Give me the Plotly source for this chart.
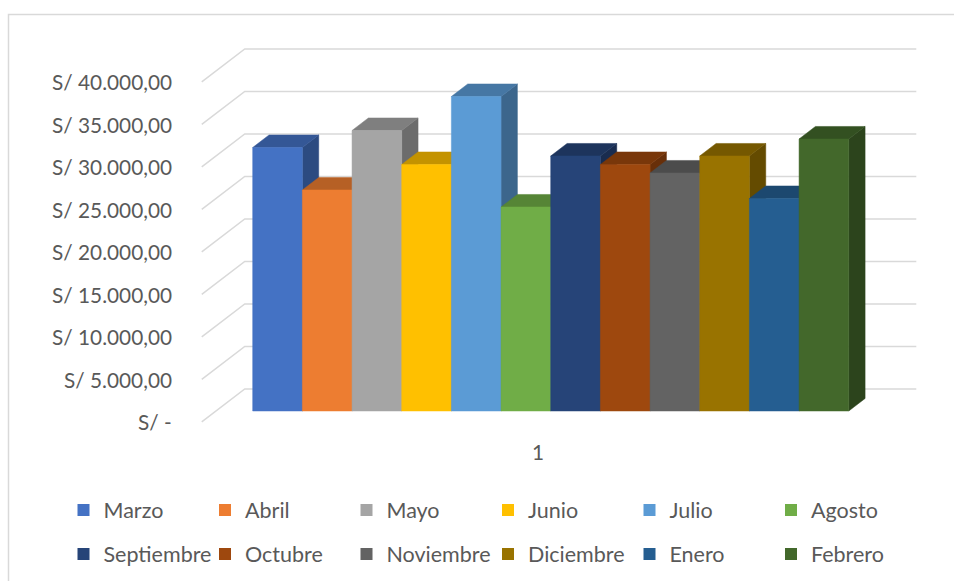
import plotly.graph_objects as go

# ---------------- data ----------------
months = ["Marzo", "Abril", "Mayo", "Junio", "Julio", "Agosto",
          "Septiembre", "Octubre", "Noviembre", "Diciembre", "Enero", "Febrero"]
values = [31000, 26000, 33000, 29000, 37000, 24000,
          30000, 29000, 28000, 30000, 25000, 32000]
colors = ["#4472C4", "#ED7D31", "#A5A5A5", "#FFC000", "#5B9BD5", "#70AD47",
          "#264478", "#9E480E", "#636363", "#997300", "#255E91", "#43682B"]
tick_vals = [0, 5000, 10000, 15000, 20000, 25000, 30000, 35000, 40000]
tick_text = ["S/ -", "S/ 5.000,00", "S/ 10.000,00", "S/ 15.000,00", "S/ 20.000,00",
             "S/ 25.000,00", "S/ 30.000,00", "S/ 35.000,00", "S/ 40.000,00"]
category_label = "1"

# ---------------- 3D oblique projection settings ----------------
DX = 0.866      # x shift (bar units) for full depth
DY = 3882.0     # y shift (value units) for full depth
ZB = 0.33       # depth of bar front face
ZB2 = 0.71      # depth of bar back face
XL, XR = -0.74, 12.78   # floor extent (bar units)
FONT = "Lato"
FSIZE = 20.8
TXT = "#595959"

def proj(x, z, v):
    return x + (z - ZB) * DX, v + (z - ZB) * DY

def shade(hexc, f):
    h = hexc.lstrip("#")
    r, g, b = (int(h[i:i + 2], 16) for i in (0, 2, 4))
    return "#%02x%02x%02x" % (int(r * f), int(g * f), int(b * f))

def poly(pts, color):
    return go.Scatter(x=[p[0] for p in pts] + [pts[0][0]],
                      y=[p[1] for p in pts] + [pts[0][1]],
                      fill="toself", fillcolor=color, mode="lines",
                      line=dict(width=0.5, color=color),
                      hoverinfo="skip", showlegend=False)

fig = go.Figure()

# gridlines (left wall + back wall)
for v in tick_vals:
    p0 = proj(XL, 0, v)
    p1 = proj(XL, 1, v)
    p2 = proj(XR, 1, v)
    fig.add_trace(go.Scatter(x=[p0[0], p1[0], p2[0]], y=[p0[1], p1[1], p2[1]],
                             mode="lines", line=dict(color="#D9D9D9", width=1.5),
                             hoverinfo="skip", showlegend=False))

# bars (side, top, front drawn left to right for correct occlusion)
for i, (m, v, c) in enumerate(zip(months, values, colors)):
    x0, x1 = i, i + 1
    fig.add_trace(poly([proj(x1, ZB, 0), proj(x1, ZB2, 0),
                        proj(x1, ZB2, v), proj(x1, ZB, v)], shade(c, 0.66)))
    fig.add_trace(poly([proj(x0, ZB, v), proj(x1, ZB, v),
                        proj(x1, ZB2, v), proj(x0, ZB2, v)], shade(c, 0.77)))
    fig.add_trace(poly([proj(x0, ZB, 0), proj(x1, ZB, 0),
                        proj(x1, ZB, v), proj(x0, ZB, v)], c))

# legend entries
for i, (m, c) in enumerate(zip(months, colors)):
    fig.add_trace(go.Scatter(x=[None], y=[None], mode="markers", name=m,
                             marker=dict(symbol="square", size=12, color=c),
                             legend="legend" if i < 6 else "legend2"))

# value axis labels
annots = []
for v, t in zip(tick_vals, tick_text):
    px, py = proj(XL, 0, v)
    annots.append(dict(x=px, y=py, xref="x", yref="y", text=t, showarrow=False,
                       xanchor="right", yanchor="middle", xshift=-28,
                       font=dict(size=FSIZE, color=TXT, family=FONT)))
cx, cy = proj((XL + XR) / 2, 0, 0)
annots.append(dict(x=cx, y=cy, xref="x", yref="y", text=category_label, showarrow=False,
                   xanchor="center", yanchor="middle", yshift=-30,
                   font=dict(size=FSIZE, color=TXT, family=FONT)))

W, H = 954, 581
xpx0, xscale = 252.7, 49.67      # pixel of x=0, px per bar unit
ypx0, yscale = 411.0, 8.5 / 1000  # pixel of v=0, px per value unit

legend_common = dict(orientation="h", xanchor="left", yanchor="middle",
                     entrywidth=96.5, entrywidthmode="pixels",
                     font=dict(size=21.5, color=TXT, family=FONT),
                     bgcolor="rgba(0,0,0,0)", itemclick=False, itemdoubleclick=False)

fig.update_layout(
    width=W, height=H,
    margin=dict(l=0, r=0, t=0, b=0),
    paper_bgcolor="white", plot_bgcolor="white",
    showlegend=True,
    xaxis=dict(visible=False, range=[-xpx0 / xscale, (W - xpx0) / xscale], fixedrange=True),
    yaxis=dict(visible=False, range=[-(H - ypx0) / yscale, ypx0 / yscale], fixedrange=True),
    legend=dict(x=63.5 / W, y=1 - 510 / H, **legend_common),
    legend2=dict(x=63.5 / W, y=1 - 554 / H, **legend_common),
    annotations=annots,
    shapes=[dict(type="rect", xref="paper", yref="paper",
                 x0=8.5 / W, x1=1.05, y0=-0.05, y1=1 - 14.5 / H,
                 line=dict(color="#D9D9D9", width=1.5), fillcolor="rgba(0,0,0,0)",
                 layer="below")],
)

fig.write_html("out.html")
